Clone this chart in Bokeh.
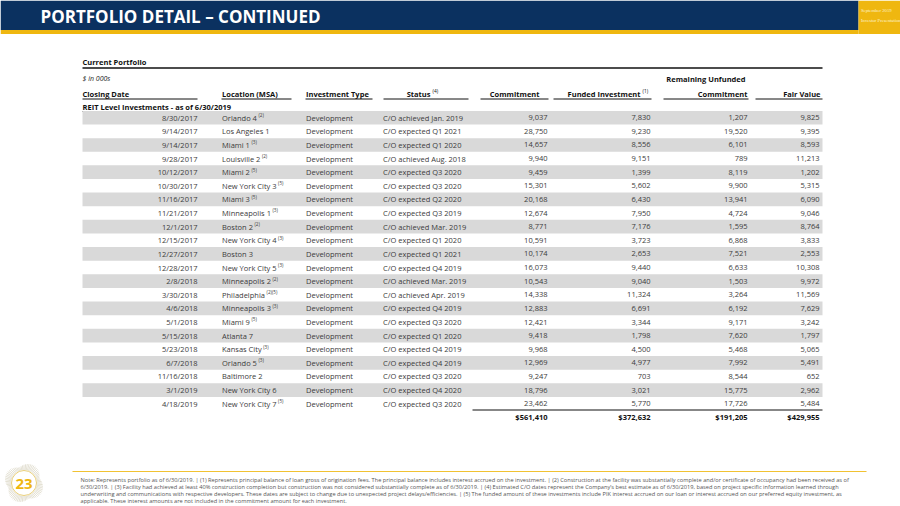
import math
from bokeh.plotting import figure
from bokeh.models import Range1d, ColumnDataSource
from bokeh.core.properties import value
from bokeh.embed import file_html
from bokeh.resources import INLINE

# ---------------- data ----------------
closing_dates = ["8/30/2017", "9/14/2017", "9/14/2017", "9/28/2017", "10/12/2017", "10/30/2017",
                 "11/16/2017", "11/21/2017", "12/1/2017", "12/15/2017", "12/27/2017", "12/28/2017",
                 "2/8/2018", "3/30/2018", "4/6/2018", "5/1/2018", "5/15/2018", "5/23/2018",
                 "6/7/2018", "11/16/2018", "3/1/2019", "4/18/2019"]
locations = ["Orlando 4", "Los Angeles 1", "Miami 1", "Louisville 2", "Miami 2", "New York City 3",
             "Miami 3", "Minneapolis 1", "Boston 2", "New York City 4", "Boston 3", "New York City 5",
             "Minneapolis 2", "Philadelphia", "Minneapolis 3", "Miami 9", "Atlanta 7", "Kansas City",
             "Orlando 5", "Baltimore 2", "New York City 6", "New York City 7"]
location_notes = ["(2)", "", "(3)", "(2)", "(5)", "(5)", "(5)", "(3)", "(2)", "(3)", "", "(3)",
                  "(2)", "(2)(5)", "(3)", "(5)", "", "(3)", "(3)", "", "", "(5)"]
investment_types = ["Development"] * 22
statuses = ["C/O achieved Jan. 2019", "C/O expected Q1 2021", "C/O expected Q1 2020",
            "C/O achieved Aug. 2018", "C/O expected Q3 2020", "C/O expected Q3 2020",
            "C/O expected Q2 2020", "C/O expected Q3 2019", "C/O achieved Mar. 2019",
            "C/O expected Q1 2020", "C/O expected Q1 2021", "C/O expected Q4 2019",
            "C/O achieved Mar. 2019", "C/O achieved Apr. 2019", "C/O expected Q4 2019",
            "C/O expected Q3 2020", "C/O expected Q1 2020", "C/O expected Q4 2019",
            "C/O expected Q4 2019", "C/O expected Q3 2020", "C/O expected Q4 2020",
            "C/O expected Q3 2020"]
commitment = [9037, 28750, 14657, 9940, 9459, 15301, 20168, 12674, 8771, 10591, 10174, 16073,
              10543, 14338, 12883, 12421, 9418, 9968, 12969, 9247, 18796, 23462]
funded_investment = [7830, 9230, 8556, 9151, 1399, 5602, 6430, 7950, 7176, 3723, 2653, 9440,
                     9040, 11324, 6691, 3344, 1798, 4500, 4977, 703, 3021, 5770]
remaining_unfunded = [1207, 19520, 6101, 789, 8119, 9900, 13941, 4724, 1595, 6868, 7521, 6633,
                      1503, 3264, 6192, 9171, 7620, 5468, 7992, 8544, 15775, 17726]
fair_value = [9825, 9395, 8593, 11213, 1202, 5315, 6090, 9046, 8764, 3833, 2553, 10308,
              9972, 11569, 7629, 3242, 1797, 5065, 5491, 652, 2962, 5484]
totals = [561410, 372632, 191205, 429955]

title = "PORTFOLIO DETAIL \u2013 CONTINUED"
footer_lines = [
    "Note: Represents portfolio as of 6/30/2019.  |  (1) Represents principal balance of loan gross of origination fees. The principal balance includes interest accrued on the investment.  |  (2) Construction at the facility was substantially complete and/or certificate of occupancy had been received as of",
    "6/30/2019.  |  (3) Facility had achieved at least 40% construction completion but construction was not considered substantially complete as of 6/30/2019.  |  (4) Estimated C/O dates represent the Company\u2019s best estimate as of 6/30/2019, based on project specific information learned through",
    "underwriting and communications with respective developers. These dates are subject to change due to unexpected project delays/efficiencies.  |  (5) The funded amount of these investments include PIK interest accrued on our loan or interest accrued on our preferred equity investment, as",
    "applicable. These interest amounts are not included in the commitment amount for each investment.",
]

# ---------------- styling ----------------
FONT = value("Open Sans")
NAVY = "#0b3160"
GOLD = "#efb710"
TXT = "#3b3b3b"
BAND = "#d9d9d9"

# approximate Open Sans advance widths (em) to place superscripts
CW = {' ': 0.26, 'a': 0.556, 'b': 0.613, 'c': 0.48, 'd': 0.613, 'e': 0.561, 'f': 0.336, 'g': 0.546,
      'h': 0.614, 'i': 0.253, 'j': 0.253, 'k': 0.525, 'l': 0.253, 'm': 0.93, 'n': 0.614, 'o': 0.604,
      'p': 0.613, 'q': 0.613, 'r': 0.41, 's': 0.476, 't': 0.353, 'u': 0.614, 'v': 0.5, 'w': 0.775,
      'x': 0.511, 'y': 0.5, 'z': 0.468, 'A': 0.633, 'B': 0.648, 'C': 0.631, 'K': 0.614, 'L': 0.519,
      'M': 0.903, 'N': 0.754, 'O': 0.779, 'P': 0.602, 'Y': 0.56}


def text_width(s, size):
    return sum(CW.get(ch, 0.572) for ch in s) * size


W, H = 900, 506
p = figure(width=W, height=H, x_range=Range1d(0, W), y_range=Range1d(H, 0),
           output_backend="svg", toolbar_location=None, min_border=0,
           x_axis_location=None, y_axis_location=None)
p.grid.visible = False
p.outline_line_color = None
p.background_fill_color = "white"
p.border_fill_color = "white"


def txt(x, y, t, size, color=TXT, align="left", style="normal", baseline="middle", font=FONT):
    p.text(x=[x], y=[y], text=[t], text_font=font, text_font_size=size, text_color=color,
           text_align=align, text_font_style=style, text_baseline=baseline)


# ---------------- header banner ----------------
p.quad(left=[0], right=[858], top=[0], bottom=[29.5], fill_color=NAVY, line_color=None)
p.quad(left=[0], right=[858], top=[29.5], bottom=[33.5], fill_color=GOLD, line_color=None)
p.quad(left=[858], right=[900], top=[0], bottom=[33.5], fill_color=GOLD, line_color=None)
txt(40, 15.5, title, "17px", color="white", style="bold")
NARROW = value("Liberation Sans Narrow")
txt(860.5, 9.5, "September 2019", "4.7px", color="#fdf3d0", font=NARROW)
txt(860.5, 19.5, "Investor Presentation", "4.7px", color="#fdf3d0", font=NARROW)

# ---------------- table header ----------------
L, R = 82, 822
txt(L, 61.5, "Current Portfolio", "7.5px", color="#111111", style="bold")
p.segment(x0=[L], y0=[67.5], x1=[R], y1=[67.5], line_color="#111111", line_width=1.5)
txt(L, 78, "$ in 000s", "7px", color="#222222", style="italic")
txt(745, 78, "Remaining Unfunded", "7.5px", color="#111111", align="right", style="bold")

hy = 93
txt(L, hy, "Closing Date", "7.5px", color="#111111", style="bold")
txt(221.5, hy, "Location (MSA)", "7.5px", color="#111111", style="bold")
txt(305.5, hy, "Investment Type", "7.5px", color="#111111", style="bold")
txt(430, hy, "Status", "7.5px", color="#111111", align="right", style="bold")
txt(432, hy - 3, "(4)", "4.8px", color="#111111")
txt(539, hy, "Commitment", "7.5px", color="#111111", align="right", style="bold")
txt(640, hy, "Funded Investment", "7.5px", color="#111111", align="right", style="bold")
txt(642, hy - 3, "(1)", "4.8px", color="#111111")
txt(747, hy, "Commitment", "7.5px", color="#111111", align="right", style="bold")
txt(820, hy, "Fair Value", "7.5px", color="#111111", align="right", style="bold")

ul_left = [82, 221, 305, 383, 480, 553, 663, 755]
ul_right = [197, 291, 372, 468, 548, 651, 748, 822]
p.segment(x0=ul_left, y0=[98.5] * 8, x1=ul_right, y1=[98.5] * 8, line_color="#111111", line_width=1)

txt(L, 106.5, "REIT Level Investments - as of 6/30/2019", "7.5px", color="#111111", style="bold")
p.segment(x0=[L], y0=[111], x1=[234], y1=[111], line_color="#111111", line_width=0.8)

# ---------------- rows ----------------
n = len(closing_dates)
y0, dy = 117.2, 13.62
ys = [y0 + i * dy for i in range(n)]
band_idx = [i for i in range(n) if i % 2 == 0]
p.quad(left=[L] * len(band_idx), right=[R] * len(band_idx),
       top=[ys[i] - dy / 2 for i in band_idx], bottom=[ys[i] + dy / 2 for i in band_idx],
       fill_color=BAND, line_color=None)


def fmt(v):
    return f"{v:,}"


src = ColumnDataSource(dict(
    y=ys, date=closing_dates, loc=locations, typ=investment_types, status=statuses,
    c=[fmt(v) for v in commitment], f=[fmt(v) for v in funded_investment],
    r=[fmt(v) for v in remaining_unfunded], fv=[fmt(v) for v in fair_value],
))
common = dict(text_font=FONT, text_font_size="7.5px", text_color=TXT, text_baseline="middle")
p.text(x=197, y="y", text="date", text_align="right", source=src, **common)
p.text(x=221.5, y="y", text="loc", text_align="left", source=src, **common)
p.text(x=305.5, y="y", text="typ", text_align="left", source=src, **common)
p.text(x=382.5, y="y", text="status", text_align="left", source=src, **common)
p.text(x=547, y="y", text="c", text_align="right", source=src, **common)
p.text(x=650, y="y", text="f", text_align="right", source=src, **common)
p.text(x=747, y="y", text="r", text_align="right", source=src, **common)
p.text(x=819, y="y", text="fv", text_align="right", source=src, **common)

sup_x, sup_y, sup_t = [], [], []
for i, (loc, note) in enumerate(zip(locations, location_notes)):
    if note:
        sup_x.append(221.5 + text_width(loc, 7.5) + 1.5)
        sup_y.append(ys[i] - 2.6)
        sup_t.append(note)
p.text(x=sup_x, y=sup_y, text=sup_t, text_font=FONT, text_font_size="4.6px", text_color=TXT,
       text_baseline="middle", text_align="left")

# ---------------- totals ----------------
p.segment(x0=[472], y0=[409.5], x1=[R], y1=[409.5], line_color="#111111", line_width=1.2)
p.text(x=[547, 650, 747, 819], y=[416.5] * 4, text=[f"${v:,}" for v in totals],
       text_font=FONT, text_font_size="7.5px", text_color="#111111", text_font_style="bold",
       text_baseline="middle", text_align="right")

# ---------------- footer ----------------
p.segment(x0=[72], y0=[471], x1=[866], y1=[471], line_color="#f1c232", line_width=1.2)
p.text(x=[80] * 4, y=[479 + 7 * k for k in range(4)], text=footer_lines, text_font=FONT,
       text_font_size="5.67px", text_color="#555555", text_baseline="middle", text_align="left")

# logo: page number in a sunburst ring
cx, cy = 23.5, 482.5
angles = [k * 2 * math.pi / 72 for k in range(72)]
r_in = 13
lens = [3 + 4 * abs(math.sin(2 * a + 0.6)) for a in angles]
p.segment(x0=[cx + r_in * math.cos(a) for a in angles], y0=[cy + r_in * math.sin(a) for a in angles],
          x1=[cx + (r_in + l) * math.cos(a) for a, l in zip(angles, lens)],
          y1=[cy + (r_in + l) * math.sin(a) for a, l in zip(angles, lens)],
          line_color="#c9c2a8", line_width=0.5)
p.scatter(x=[cx], y=[cy], size=25, marker="circle", fill_color="white", line_color="#e9cf7a",
          line_width=1)
txt(cx, cy + 0.5, "23", "15px", color="#efb710", align="center", style="bold")

open("out.html", "w").write(file_html(p, INLINE))
